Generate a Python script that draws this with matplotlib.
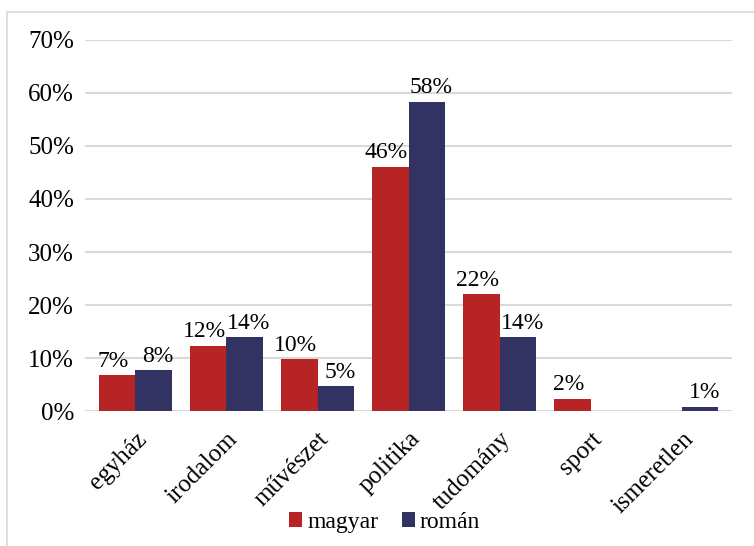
import numpy as np
import matplotlib.pyplot as plt
from matplotlib.patches import Rectangle

categories = ['egyház', 'irodalom', 'művészet', 'politika', 'tudomány', 'sport', 'ismeretlen']
magyar = [6.8, 12.3, 9.8, 46.1, 22.0, 2.3, 0.0]
roman = [7.7, 13.9, 4.7, 58.3, 13.9, 0.0, 0.8]
magyar_labels = ['7%', '12%', '10%', '46%', '22%', '2%', None]
roman_labels = ['8%', '14%', '5%', '58%', '14%', None, '1%']
y_ticks = [0, 10, 20, 30, 40, 50, 60, 70]

plt.rcParams['font.family'] = ['Liberation Serif', 'DejaVu Serif']

red = '#B72426'
navy = '#323263'

fig = plt.figure(figsize=(7.54, 5.46), dpi=100)
ax = fig.add_axes([0.113, 0.247, 0.858, 0.68])

x = np.arange(len(categories))
w = 0.4
b1 = ax.bar(x - w / 2, magyar, w, color=red, label='magyar', zorder=3)
b2 = ax.bar(x + w / 2, roman, w, color=navy, label='román', zorder=3)

# labels pushed slightly apart so neighbours don't collide
for bars, labels, dx in ((b1, magyar_labels, -3), (b2, roman_labels, 3)):
    for bar, lab in zip(bars, labels):
        if lab is None:
            continue
        ax.annotate(lab, (bar.get_x() + bar.get_width() / 2, bar.get_height()),
                    xytext=(dx, 2.5), textcoords='offset points',
                    ha='center', va='bottom', fontsize=17, zorder=4)

ax.set_ylim(0, 70)
ax.set_xlim(-0.55, len(categories) - 0.45)
ax.set_yticks(y_ticks)
ax.set_yticklabels([str(t) + '%' for t in y_ticks], fontsize=18)
ax.set_xticks(x)
ax.set_xticklabels(categories, rotation=45, ha='right', rotation_mode='anchor', fontsize=18)
ax.tick_params(axis='both', length=0, pad=8)
ax.tick_params(axis='x', pad=12)
ax.grid(axis='y', color='#D9D9D9', linewidth=1.5, zorder=0)
for s in ax.spines.values():
    s.set_visible(False)

fig.patches.append(Rectangle((7 / 754, -0.1), 1.2, 1 - 12 / 546 + 0.1, transform=fig.transFigure,
                             fill=False, edgecolor='#D9D9D9', linewidth=1.2))

fig.legend(loc='lower center', bbox_to_anchor=(0.51, -0.015), ncol=2, frameon=False,
           fontsize=17, handlelength=0.55, handleheight=0.55, handletextpad=0.2, columnspacing=1.0)

fig.savefig('out.png', dpi=100)
